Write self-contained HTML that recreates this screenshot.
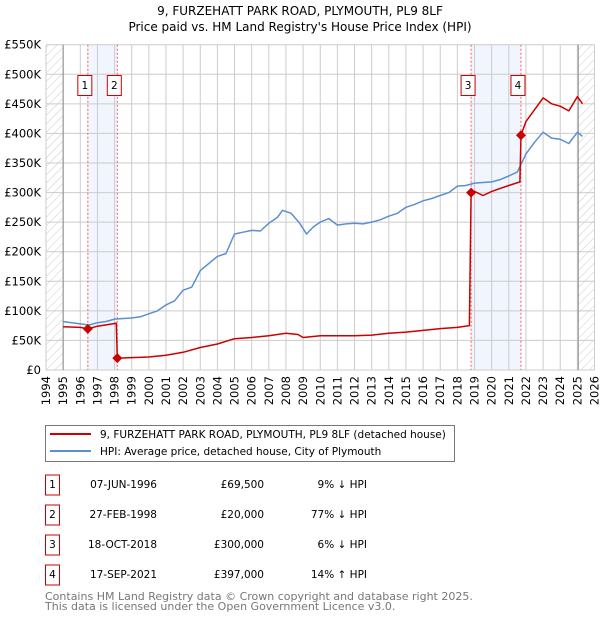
<!DOCTYPE html>
<html><head><meta charset="utf-8"><style>
body{margin:0;background:#fff;font-family:"Liberation Sans","DejaVu Sans",sans-serif;}
svg text{font-family:"DejaVu Sans","Liberation Sans",sans-serif;}
</style></head><body>
<svg id="c" width="600" height="620" xmlns="http://www.w3.org/2000/svg">
<defs><pattern id="hatch" width="6" height="6" patternUnits="userSpaceOnUse" patternTransform="rotate(45)"><line x1="0" y1="0" x2="0" y2="6" stroke="#ccc" stroke-width="1"/></pattern></defs>
<text x="300" y="15" font-size="12" text-anchor="middle">9, FURZEHATT PARK ROAD, PLYMOUTH, PL9 8LF</text>
<text x="300" y="31" font-size="12" text-anchor="middle">Price paid vs. HM Land Registry's House Price Index (HPI)</text>
<g id="plot"></g>
<g>
<rect x="45.5" y="425.5" width="409" height="36" fill="#fff" stroke="#777"/>
<line x1="50" y1="434" x2="91" y2="434" stroke="#cc0000" stroke-width="2"/>
<text x="100" y="438" font-size="10.5">9, FURZEHATT PARK ROAD, PLYMOUTH, PL9 8LF (detached house)</text>
<line x1="50" y1="451" x2="91" y2="451" stroke="#5b8fd0" stroke-width="2"/>
<text x="100" y="455" font-size="10.5">HPI: Average price, detached house, City of Plymouth</text>
</g>
<g id="table" font-size="10.5"></g>
<text x="45" y="600" font-size="11" fill="#777">Contains HM Land Registry data © Crown copyright and database right 2025.</text>
<text x="45" y="610" font-size="11" fill="#777">This data is licensed under the Open Government Licence v3.0.</text>
</svg>
<script>
const yTicks=[0,50,100,150,200,250,300,350,400,450,500,550];
const yLabels=["£0","£50K","£100K","£150K","£200K","£250K","£300K","£350K","£400K","£450K","£500K","£550K"];
const xYears=[1994,1995,1996,1997,1998,1999,2000,2001,2002,2003,2004,2005,2006,2007,2008,2009,2010,2011,2012,2013,2014,2015,2016,2017,2018,2019,2020,2021,2022,2023,2024,2025,2026];
const hpiYears=[1995,1995.5,1996,1996.5,1997,1997.5,1998,1998.5,1999,1999.5,2000,2000.5,2001,2001.5,2002,2002.5,2003,2003.5,2004,2004.5,2005,2005.5,2006,2006.5,2007,2007.5,2007.8,2008.3,2008.8,2009.2,2009.6,2010,2010.5,2011,2011.5,2012,2012.5,2013,2013.5,2014,2014.5,2015,2015.5,2016,2016.5,2017,2017.5,2018,2018.5,2019,2019.5,2020,2020.5,2021,2021.5,2022,2022.5,2023,2023.5,2024,2024.5,2025,2025.3];
const hpiValues=[82,80,78,76,80,82,86,87,88,90,95,100,110,117,135,140,168,180,192,197,230,233,236,235,248,258,270,265,248,230,242,250,256,245,247,248,247,250,254,260,265,275,280,286,290,295,300,311,312,316,317,318,322,328,335,365,385,402,392,390,383,402,395];
const ppYears=[1995,1996,1996.44,1997,1998.1,1998.16,1999,2000,2001,2002,2003,2004,2005,2006,2007,2008,2008.7,2009,2010,2011,2012,2013,2014,2015,2016,2017,2018,2018.7,2018.8,2019,2019.5,2020,2020.5,2021,2021.65,2021.71,2022,2022.5,2023,2023.5,2024,2024.5,2025,2025.3];
const ppValues=[73,72,69.5,74,79,20,21,22,25,30,38,44,53,55,58,62,60,55,58,58,58,59,62,64,67,70,72,75,300,302,295,302,307,312,318,397,420,440,460,450,446,438,462,450];
const saleYears=[1996.44,1998.16,2018.8,2021.71];
const saleValues=[69.5,20,300,397];
const saleLabels=["1","2","3","4"];
const saleDates=["07-JUN-1996","27-FEB-1998","18-OCT-2018","17-SEP-2021"];
const salePrices=["£69,500","£20,000","£300,000","£397,000"];
const saleDiffs=["9% ↓ HPI","77% ↓ HPI","6% ↓ HPI","14% ↑ HPI"];

const NS="http://www.w3.org/2000/svg";
const L=46,R=594.5,T=44.7,B=370;
const x=y=>L+(y-1994)*(R-L)/32;
const y=v=>B-v*(B-T)/550;
const plot=document.getElementById('plot');
function mk(tag,attrs,parent){const e=document.createElementNS(NS,tag);for(const k in attrs)e.setAttribute(k,attrs[k]);(parent||plot).appendChild(e);return e;}
for(const [a,b] of [[0,1],[2,3]]){const r=mk('rect',{x:x(saleYears[a]),y:T,width:x(saleYears[b])-x(saleYears[a]),height:B-T,fill:'#eef3fc',opacity:0.8});

}
const h1=mk('rect',{x:L,y:T,width:x(1995)-L,height:B-T,fill:'url(#hatch)'});


const h2=mk('rect',{x:x(2025.05),y:T,width:R-x(2025.05),height:B-T,fill:'url(#hatch)'});


yTicks.forEach((v,i)=>{mk('line',{x1:L,x2:R,y1:y(v),y2:y(v),stroke:'#ccc','stroke-width':1});
const t=mk('text',{x:L-5,y:y(v)+4,'font-size':11.5,'text-anchor':'end'});t.textContent=yLabels[i];

});
xYears.forEach(yr=>{mk('line',{x1:x(yr),x2:x(yr),y1:T,y2:B,stroke:'#ccc','stroke-width':1});
const t=mk('text',{x:0,y:0,'font-size':11.5,'text-anchor':'end',transform:`translate(${x(yr)+4},${B+6}) rotate(-90)`});t.textContent=yr;

});
mk('line',{x1:x(1995),x2:x(1995),y1:T,y2:B,stroke:'#888','stroke-width':1});
mk('line',{x1:x(2025.05),x2:x(2025.05),y1:T,y2:B,stroke:'#888','stroke-width':1});
saleYears.forEach((sy,i)=>{mk('line',{x1:x(sy),x2:x(sy),y1:T,y2:B,stroke:'#f06060','stroke-width':1,'stroke-dasharray':'2,2'});
const g=mk('g',{});
const cx=x(sy)-3;
mk('rect',{x:cx-7,y:75.5,width:14,height:20,fill:'#fff',stroke:'#cc0000'},g);
const t=mk('text',{x:cx,y:89,'font-size':10.5,'text-anchor':'middle'},g);t.textContent=saleLabels[i];});
function path(xs,vs,color,name){const d=xs.map((a,i)=>(i?'L':'M')+x(a).toFixed(1)+','+y(vs[i]).toFixed(1)).join('');
const p=mk('path',{d:d,fill:'none',stroke:color,'stroke-width':1.5,'stroke-linejoin':'round'});

}
path(hpiYears,hpiValues,'#5b8fd0','hpi-line');
path(ppYears,ppValues,'#cc0000','price-paid-line');
saleYears.forEach((sy,i)=>{const c=mk('path',{d:`M${x(sy)},${y(saleValues[i])-5}l5,5l-5,5l-5,-5z`,fill:'#cc0000'});

});
const tb=document.getElementById('table');
saleLabels.forEach((s,i)=>{const cy=484+i*30;
const g=mk('g',{},tb);
mk('rect',{x:45.5,y:cy-9,width:14,height:20,fill:'#fff',stroke:'#cc0000'},g);
const a=mk('text',{x:52.5,y:cy+4,'text-anchor':'middle'},g);a.textContent=s;
const b=mk('text',{x:157,y:cy+4,'text-anchor':'end'},g);b.textContent=saleDates[i];
const c=mk('text',{x:264,y:cy+4,'text-anchor':'end'},g);c.textContent=salePrices[i];
const d=mk('text',{x:367,y:cy+4,'text-anchor':'end'},g);d.textContent=saleDiffs[i];});
</script>
</body></html>
